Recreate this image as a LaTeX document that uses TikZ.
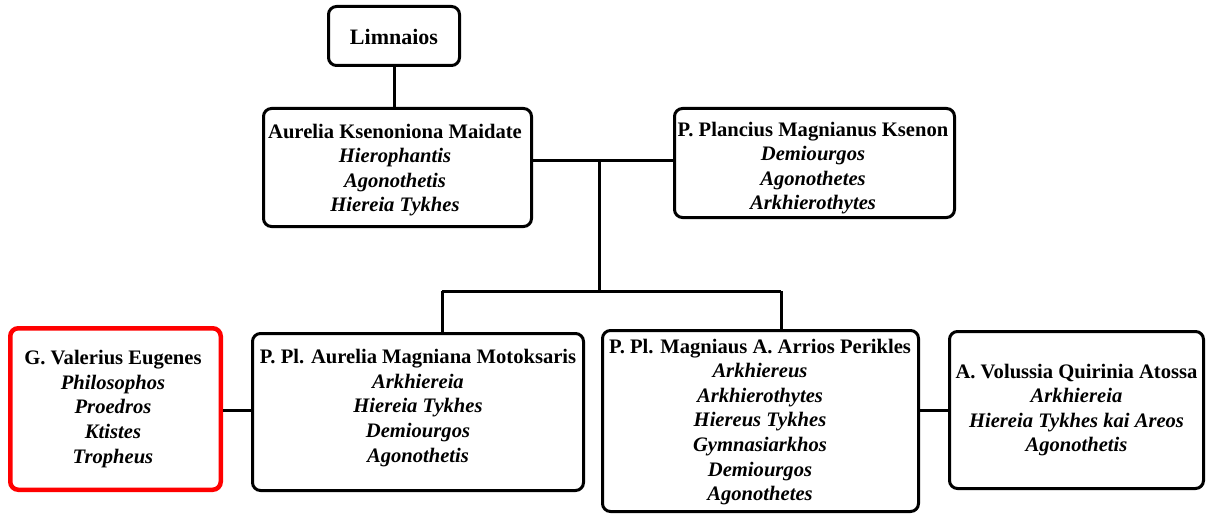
\documentclass[tikz,border=0pt]{standalone}
\usepackage{fontspec}
\setmainfont{Liberation Serif}
\begin{document}
\begin{tikzpicture}[x=1pt,y=1pt,yscale=-1,xscale=1,
  pbox/.style={draw,line width=3pt,rounded corners=8pt,inner sep=0pt},
  ptext/.style={align=center,inner sep=0pt,font=\fontsize{20.6}{24.6}\selectfont\bfseries},
  link/.style={line width=3pt}]
\useasboundingbox (0,0) rectangle (1214,516);

%Shape: Rectangle [id:lim]
\node[pbox,minimum width=131pt,minimum height=59pt] (lim) at (394,36) {};
%Shape: Rectangle [id:aur]
\node[pbox,minimum width=268pt,minimum height=118pt] (aur) at (397.5,167.5) {};
%Shape: Rectangle [id:pla]
\node[pbox,minimum width=280pt,minimum height=109pt] (pla) at (814.5,163) {};
%Shape: Rectangle [id:val]
\node[pbox,draw=red,line width=4.5pt,minimum width=210.5pt,minimum height=161.5pt] (val) at (115.5,409) {};
%Shape: Rectangle [id:mot]
\node[pbox,minimum width=331pt,minimum height=157pt] (mot) at (418,412) {};
%Shape: Rectangle [id:per]
\node[pbox,minimum width=316pt,minimum height=181pt] (per) at (760.5,421) {};
%Shape: Rectangle [id:ato]
\node[pbox,minimum width=254pt,minimum height=157pt] (ato) at (1076.5,410) {};

%Straight Lines
\coordinate (wed) at (599,160);
\coordinate (kids) at (599,291);
\coordinate (motup) at (442,291);
\coordinate (perup) at (781,291);
\draw[link] (lim.south) -- (lim.south |- aur.north);
\draw[link] (aur.east |- wed) -- (pla.west |- wed);
\draw[link] (wed) -- (kids);
\draw[link] (motup) -- (perup);
\draw[link] (motup) -- (motup |- mot.north);
\draw[link] (perup) -- (perup |- per.north);
\draw[link] (val.east |- 0,410) -- (mot.west |- 0,410);
\draw[link] (per.east |- ato.west) -- (ato.west);

% Text Node
\node[ptext,font=\fontsize{22}{26}\selectfont\bfseries] (limtxt) at (394,37) {Limnaios};
% Text Node
\node[ptext] (aurtxt) at (395,170) {Aurelia Ksenoniona Maidate\\\textit{Hierophantis}\\\textit{Agonothetis}\\\textit{Hiereia Tykhes}};
% Text Node
\node[ptext] (platxt) at (813,168) {P. Plancius Magnianus Ksenon\\\textit{Demiourgos}\\\textit{Agonothetes}\\\textit{Arkhierothytes}};
% Text Node
\node[ptext] (valtxt) at (113,409) {G. Valerius Eugenes\\\textit{Philosophos}\\\textit{Proedros}\\\textit{Ktistes}\\\textit{Tropheus}};
% Text Node
\node[ptext] (mottxt) at (418,408) {P. Pl. Aurelia Magniana Motoksaris\\\textit{Arkhiereia}\\\textit{Hiereia Tykhes}\\\textit{Demiourgos}\\\textit{Agonothetis}};
% Text Node
\node[ptext] (pertxt) at (760,422) {P. Pl. Magniaus A. Arrios Perikles\\\textit{Arkhiereus}\\\textit{Arkhierothytes}\\\textit{Hiereus Tykhes}\\\textit{Gymnasiarkhos}\\\textit{Demiourgos}\\\textit{Agonothetes}};
% Text Node
\node[ptext] (atotxt) at (1076.5,410) {A. Volussia Quirinia Atossa\\\textit{Arkhiereia}\\\textit{Hiereia Tykhes kai Areos}\\\textit{Agonothetis}};
\end{tikzpicture}
\end{document}
